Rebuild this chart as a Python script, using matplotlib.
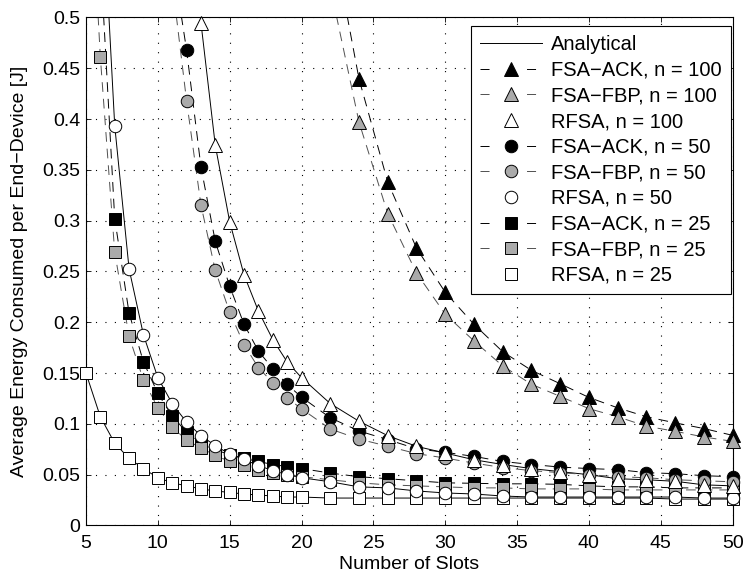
import numpy as np
import matplotlib
matplotlib.use('Agg')
import matplotlib.pyplot as plt
from matplotlib.lines import Line2D
from matplotlib.ticker import MultipleLocator, FuncFormatter

plt.rcParams['font.family'] = ['Liberation Sans', 'DejaVu Sans']
plt.rcParams['font.size'] = 14
plt.rcParams['lines.scale_dashes'] = False
plt.rcParams['axes.linewidth'] = 0.8
plt.rcParams['xtick.direction'] = 'in'
plt.rcParams['ytick.direction'] = 'in'
plt.rcParams['xtick.top'] = True
plt.rcParams['ytick.right'] = True

nan = np.nan

# number of slots (x axis)
slots = [5, 6, 7, 8, 9, 10, 11, 12, 13, 14, 15, 16, 17, 18, 19, 20,
         22, 24, 26, 28, 30, 32, 34, 36, 38, 40, 42, 44, 46, 48, 50]

# energy [J]; values above 0.5 are off-chart estimates for the analytical curves
ack_25 = [nan, 0.56, 0.302, 0.209, 0.161, 0.130, 0.1075, 0.092, 0.080, 0.0745, 0.0697, 0.066, 0.063, 0.060, 0.058, 0.056,
          0.0516, 0.048, 0.046, 0.044, 0.042, 0.0415, 0.041, 0.041, 0.0405, 0.039, 0.038, 0.038, 0.037, 0.037, 0.037]
fbp_25 = [0.72, 0.461, 0.269, 0.186, 0.143, 0.116, 0.097, 0.084, 0.0763, 0.069, 0.063, 0.060, 0.055, 0.052, 0.050, 0.048,
          0.045, 0.042, 0.040, 0.039, 0.038, 0.037, 0.037, 0.036, 0.036, 0.036, 0.035, 0.035, 0.035, 0.035, 0.035]
rfsa_25 = [0.150, 0.107, 0.081, 0.066, 0.056, 0.047, 0.042, 0.039, 0.036, 0.034, 0.0325, 0.031, 0.030, 0.029, 0.028, 0.028,
           0.027, 0.027, 0.027, 0.027, 0.027, 0.027, 0.027, 0.027, 0.027, 0.027, 0.027, 0.027, 0.026, 0.026, 0.026]

ack_50 = [nan, nan, nan, nan, nan, nan, 0.56, 0.468, 0.353, 0.2795, 0.2355, 0.198, 0.1717, 0.1543, 0.1388, 0.1263,
          0.106, 0.093, 0.0845, 0.0755, 0.072, 0.068, 0.063, 0.060, 0.0575, 0.056, 0.055, 0.052, 0.051, 0.049, 0.048]
fbp_50 = [nan, nan, nan, nan, nan, nan, 0.535, 0.418, 0.3155, 0.251, 0.210, 0.178, 0.1553, 0.1405, 0.1257, 0.1148,
          0.095, 0.085, 0.078, 0.0707, 0.0664, 0.0614, 0.057, 0.054, 0.052, 0.050, 0.048, 0.047, 0.045, 0.044, 0.043]
rfsa_50 = [nan, 0.66, 0.3935, 0.2525, 0.1876, 0.1455, 0.120, 0.1016, 0.0884, 0.0786, 0.0703, 0.065, 0.059, 0.054, 0.050, 0.047,
           0.043, 0.038, 0.037, 0.034, 0.032, 0.031, 0.029, 0.028, 0.028, 0.028, 0.028, 0.028, 0.028, 0.027, 0.027]

ack_100 = [nan] * 16 + [0.59, 0.4395, 0.338, 0.273, 0.2295, 0.198, 0.171, 0.1527, 0.1395, 0.126,
                        0.1158, 0.107, 0.101, 0.0954, 0.0887]
fbp_100 = [nan] * 16 + [0.53, 0.397, 0.307, 0.2485, 0.208, 0.1816, 0.157, 0.139, 0.127, 0.115,
                        0.107, 0.0977, 0.0927, 0.0871, 0.0828]
rfsa_100 = [nan] * 7 + [0.65, 0.495, 0.374, 0.299, 0.2466, 0.211, 0.183, 0.161, 0.1455,
                        0.120, 0.1026, 0.0884, 0.0779, 0.0713, 0.0647, 0.060, 0.056, 0.053, 0.050,
                        0.046, 0.045, 0.0435, 0.040, 0.039]

gray = '#AAAAAA'
dash_gray = '#505050'
lw = 0.7

fig = plt.figure(figsize=(7.45, 5.76), dpi=100)
ax = fig.add_axes([0.1154, 0.0877, 0.868, 0.882])

# analytical curves
for v in [rfsa_25, rfsa_50, rfsa_100]:
    ax.plot(slots, v, color='k', lw=lw, zorder=2)
for v in [ack_25, ack_50, ack_100]:
    ax.plot(slots, v, color='k', lw=lw, dashes=(7, 5), zorder=2)
for v in [fbp_25, fbp_50, fbp_100]:
    ax.plot(slots, v, color=dash_gray, lw=lw, dashes=(7, 5), zorder=2)

# simulation markers (only points inside the chart)
series = [
    (ack_25, 's', 'k', 8.5), (fbp_25, 's', gray, 8.5), (rfsa_25, 's', 'w', 8.5),
    (ack_50, 'o', 'k', 9), (fbp_50, 'o', gray, 9), (rfsa_50, 'o', 'w', 9),
    (ack_100, '^', 'k', 9.5), (fbp_100, '^', gray, 9.5), (rfsa_100, '^', 'w', 9.5),
]
for v, m, fc, ms in series:
    v = np.array(v)
    v = np.where(v > 0.5, nan, v)
    ax.plot(slots, v, ls='none', marker=m, mfc=fc, mec='k', mew=0.7, ms=ms,
            clip_on=False, zorder=3)

ax.set_xlim(5, 50)
ax.set_ylim(0, 0.5)
ax.xaxis.set_major_locator(MultipleLocator(5))
ax.yaxis.set_major_locator(MultipleLocator(0.05))
ax.yaxis.set_major_formatter(FuncFormatter(lambda y, p: '%g' % round(y, 2)))
ax.tick_params(length=3.5, width=0.6, labelsize=14)
ax.tick_params(axis='x', pad=7)
ax.tick_params(axis='y', pad=4)
ax.grid(True, color='k', linestyle=(0, (0.8, 6.0)), linewidth=0.8)
ax.set_axisbelow(True)

ax.set_xlabel('Number of Slots', fontsize=14, labelpad=3)
ax.set_ylabel('Average Energy Consumed per End\u2212Device [J]', fontsize=14, labelpad=10)

# legend
handles = [Line2D([], [], color='k', lw=lw)]
labels = ['Analytical']
for n, m, ms in [(100, '^', 9.5), (50, 'o', 9), (25, 's', 8.5)]:
    handles.append(Line2D([], [], color='k', lw=lw, dashes=(6.5, 27), marker=m, mfc='k', mec='k', mew=0.7, ms=ms))
    handles.append(Line2D([], [], color=dash_gray, lw=lw, dashes=(6.5, 27), marker=m, mfc=gray, mec='k', mew=0.7, ms=ms))
    handles.append(Line2D([], [], ls='none', marker=m, mfc='w', mec='k', mew=0.7, ms=ms))
    labels += ['FSA\u2212ACK, n = %d' % n, 'FSA\u2212FBP, n = %d' % n, 'RFSA, n = %d' % n]

leg = ax.legend(handles, labels, loc='upper right', bbox_to_anchor=(731 / 745, 1 - 26 / 576),
                bbox_transform=fig.transFigure, borderaxespad=0, fontsize=14.5,
                handlelength=3.1, handletextpad=0.45, labelspacing=0.33, borderpad=0.45,
                fancybox=False, framealpha=1, edgecolor='k', numpoints=1)
leg.get_frame().set_linewidth(0.8)

plt.savefig('out.png', dpi=100)
